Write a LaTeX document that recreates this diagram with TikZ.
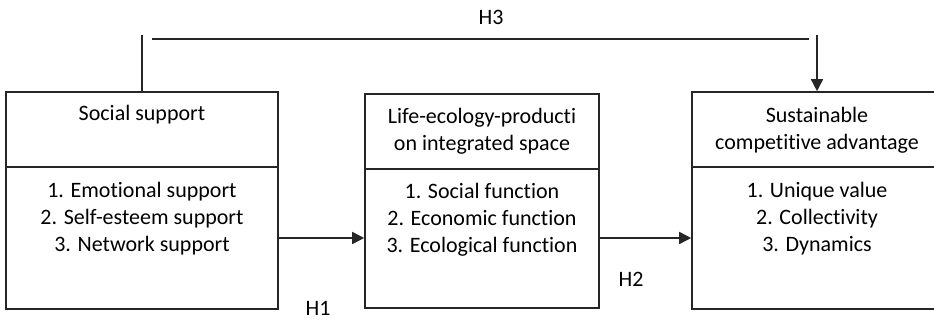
\documentclass[tikz,border=0pt]{standalone}
\usepackage{fontspec}
\setmainfont[Ligatures=CommonOff]{Carlito}
\usetikzlibrary{arrows.meta}
\begin{document}
\begin{tikzpicture}[x=1pt,y=-1pt,
  line/.style={draw=black!85, line width=1.6pt},
  arr/.style={line, -{Triangle[length=12pt,width=12pt]}},
  box/.style={line, rectangle, inner sep=0pt},
  txt/.style={font=\fontsize{22}{27}\selectfont, align=center, text=black, inner sep=0pt},
  lab/.style={font=\fontsize{22}{27}\selectfont, text=black, inner sep=0pt}]
\useasboundingbox (0,0) rectangle (934,320);
\clip (0,0) rectangle (934,320);
% boxes
\node[box, minimum width=272pt, minimum height=217pt] (b1) at (142,200.5) {};
\node[box, minimum width=234pt, minimum height=214pt] (b2) at (482,201) {};
\node[box, minimum width=250pt, minimum height=217pt] (b3) at (817,200.5) {};
% dividers
\coordinate (d1l) at (6,167); \coordinate (d1r) at (278,167);
\coordinate (d2l) at (365,169); \coordinate (d2r) at (599,169);
\coordinate (d3l) at (692,167); \coordinate (d3r) at (942,167);
\draw[line] (d1l) -- (d1r);
\draw[line] (d2l) -- (d2r);
\draw[line] (d3l) -- (d3r);
% texts
\node[txt] (t1) at (142,115) {Social support};
\node[txt] (i1) at (142,219) {1. Emotional support\\2. Self-esteem support\\3. Network support};
\node[txt] (t2) at (482,131) {Life-ecology-producti\\on integrated space};
\node[txt] (i2) at (482,220) {1. Social function\\2. Economic function\\3. Ecological function};
\node[txt] (t3) at (817,130) {Sustainable\\competitive advantage};
\node[txt] (i3) at (817,219) {1. Unique value\\2. Collectivity\\3. Dynamics};
% H1, H2 arrows
\draw[arr] (b1.east |- 0,238) -- (b2.west |- 0,238);
\draw[arr] (b2.east |- 0,238) -- (b3.west |- 0,238);
\node[lab] (h1) at (318,308) {H1};
\node[lab] (h2) at (631,279) {H2};
% H3
\coordinate (v1) at (142,35);
\coordinate (hl) at (152,39);
\coordinate (hr) at (809,39);
\coordinate (v3) at (817,35);
\draw[line] (b1.north) -- (v1);
\draw[line] (hl) -- (hr);
\draw[arr] (v3) -- (b3.north);
\node[lab] (h3) at (491,17) {H3};
\end{tikzpicture}
\end{document}
